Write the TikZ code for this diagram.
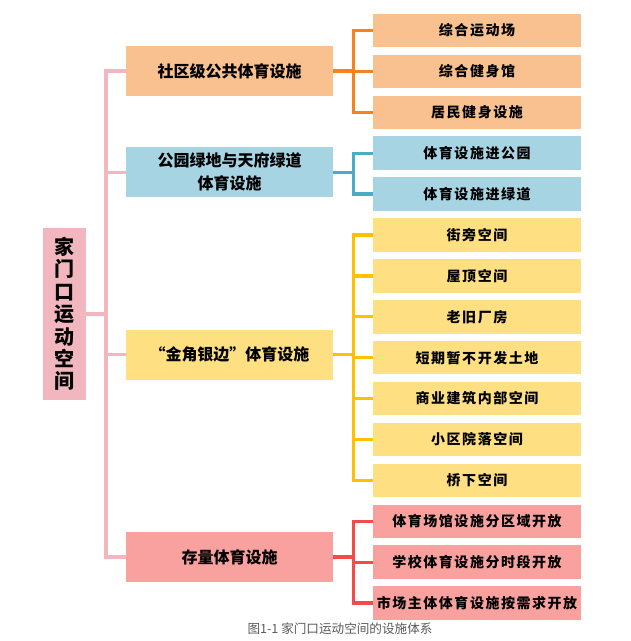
\documentclass[tikz,border=0pt]{standalone}
\usepackage{fontspec}
\setmainfont{Noto Sans CJK SC}
\newfontfamily\leaffont[LetterSpace=11]{Noto Sans CJK SC}
\usetikzlibrary{positioning}
\definecolor{rootpink}{HTML}{F2B6BE}
\definecolor{trunkpink}{HTML}{F3B6BF}
\definecolor{orangefill}{HTML}{F9C18F}
\definecolor{orangeline}{HTML}{F5821F}
\definecolor{bluefill}{HTML}{A6D4E2}
\definecolor{blueline}{HTML}{4BACC6}
\definecolor{yellowfill}{HTML}{FEE083}
\definecolor{yellowline}{HTML}{FFC000}
\definecolor{redfill}{HTML}{F9A19F}
\definecolor{redline}{HTML}{F64A48}
\definecolor{captiongray}{HTML}{595959}

\begin{document}
\begin{tikzpicture}[
  x=1pt, y=-1pt,
  node distance=7pt,
  root/.style={rectangle, fill=rootpink, minimum width=43pt, minimum height=172pt, inner sep=0pt, align=center, font=\fontsize{20}{22.4}\selectfont\bfseries},
  lvone/.style={rectangle, minimum width=207pt, minimum height=50pt, inner sep=0pt, align=center, font=\fontsize{16}{23}\selectfont\bfseries},
  leaf/.style={rectangle, minimum width=208pt, minimum height=33.5pt, inner sep=0pt, align=center, font=\fontsize{14}{16}\selectfont\leaffont\bfseries},
  trunk/.style={draw=trunkpink, line width=3.3pt},
  branch/.style={line width=3.3pt}
]
\useasboundingbox (0,0) rectangle (631,641);

% Root (left)
\node[root] (home) at (64.5,314) {家\\门\\口\\运\\动\\空\\间};

% First level
\node[lvone, fill=orangefill] (comm) at (229.5,71) {社区级公共体育设施};
\node[lvone, fill=bluefill] (park) at (229.5,172.25) {公园绿地与天府绿道\\体育设施};
\node[lvone, fill=yellowfill] (corner) at (229.5,354.5) {“金角银边”体育设施};
\node[lvone, fill=redfill] (stock) at (229.5,557) {存量体育设施};

% Leaves (right column)
\node[leaf, fill=orangefill] (zhydc) at (477,30.5) {综合运动场};
\node[leaf, fill=orangefill, below=of zhydc] (zhjsg) {综合健身馆};
\node[leaf, fill=orangefill, below=of zhjsg] (jmjs) {居民健身设施};
\node[leaf, fill=bluefill, below=of jmjs] (jgy) {体育设施进公园};
\node[leaf, fill=bluefill, below=of jgy] (jld) {体育设施进绿道};
\node[leaf, fill=yellowfill, below=of jld] (jiepang) {街旁空间};
\node[leaf, fill=yellowfill, below=of jiepang] (wuding) {屋顶空间};
\node[leaf, fill=yellowfill, below=of wuding] (laojiu) {老旧厂房};
\node[leaf, fill=yellowfill, below=of laojiu] (duanqi) {短期暂不开发土地};
\node[leaf, fill=yellowfill, below=of duanqi] (shangye) {商业建筑内部空间};
\node[leaf, fill=yellowfill, below=of shangye] (xiaoqu) {小区院落空间};
\node[leaf, fill=yellowfill, below=of xiaoqu] (qiaoxia) {桥下空间};
\node[leaf, fill=redfill, below=of qiaoxia] (fenqu) {体育场馆设施分区域开放};
\node[leaf, fill=redfill, below=of fenqu] (fenshi) {学校体育设施分时段开放};
\node[leaf, fill=redfill, below=of fenshi] (anxu) {市场主体体育设施按需求开放};

% Caption
\node[font=\fontsize{12.6}{14}\selectfont, text=captiongray] (cap) at (340,629) {图1-1 家门口运动空间的设施体系};

% Trunk from root
\coordinate (fork) at (106,314);
\draw[trunk] (home.east) -- (fork);
\draw[trunk] (fork) |- (comm.west);
\draw[trunk] (fork) |- (park.west);
\draw[trunk] (fork) |- (corner.west);
\draw[trunk] (fork) |- (stock.west);

% Branches to leaves
\draw[branch, draw=orangeline] (comm.east) -- ++(20,0) |- (zhydc.west);
\draw[branch, draw=orangeline] (comm.east) -- ++(20,0) |- (zhjsg.west);
\draw[branch, draw=orangeline] (comm.east) -- ++(20,0) |- (jmjs.west);

\draw[branch, draw=blueline] (park.east) -- ++(20,0) |- (jgy.west);
\draw[branch, draw=blueline] (park.east) -- ++(20,0) |- (jld.west);

\draw[branch, draw=yellowline] (corner.east) -- ++(20,0) |- (jiepang.west);
\draw[branch, draw=yellowline] (corner.east) -- ++(20,0) |- (wuding.west);
\draw[branch, draw=yellowline] (corner.east) -- ++(20,0) |- (laojiu.west);
\draw[branch, draw=yellowline] (corner.east) -- ++(20,0) |- (duanqi.west);
\draw[branch, draw=yellowline] (corner.east) -- ++(20,0) |- (shangye.west);
\draw[branch, draw=yellowline] (corner.east) -- ++(20,0) |- (xiaoqu.west);
\draw[branch, draw=yellowline] (corner.east) -- ++(20,0) |- (qiaoxia.west);

\draw[branch, draw=redline] (stock.east) -- ++(20,0) |- (fenqu.west);
\draw[branch, draw=redline] (stock.east) -- ++(20,0) |- (fenshi.west);
\draw[branch, draw=redline] (stock.east) -- ++(20,0) |- (anxu.west);

\end{tikzpicture}
\end{document}
